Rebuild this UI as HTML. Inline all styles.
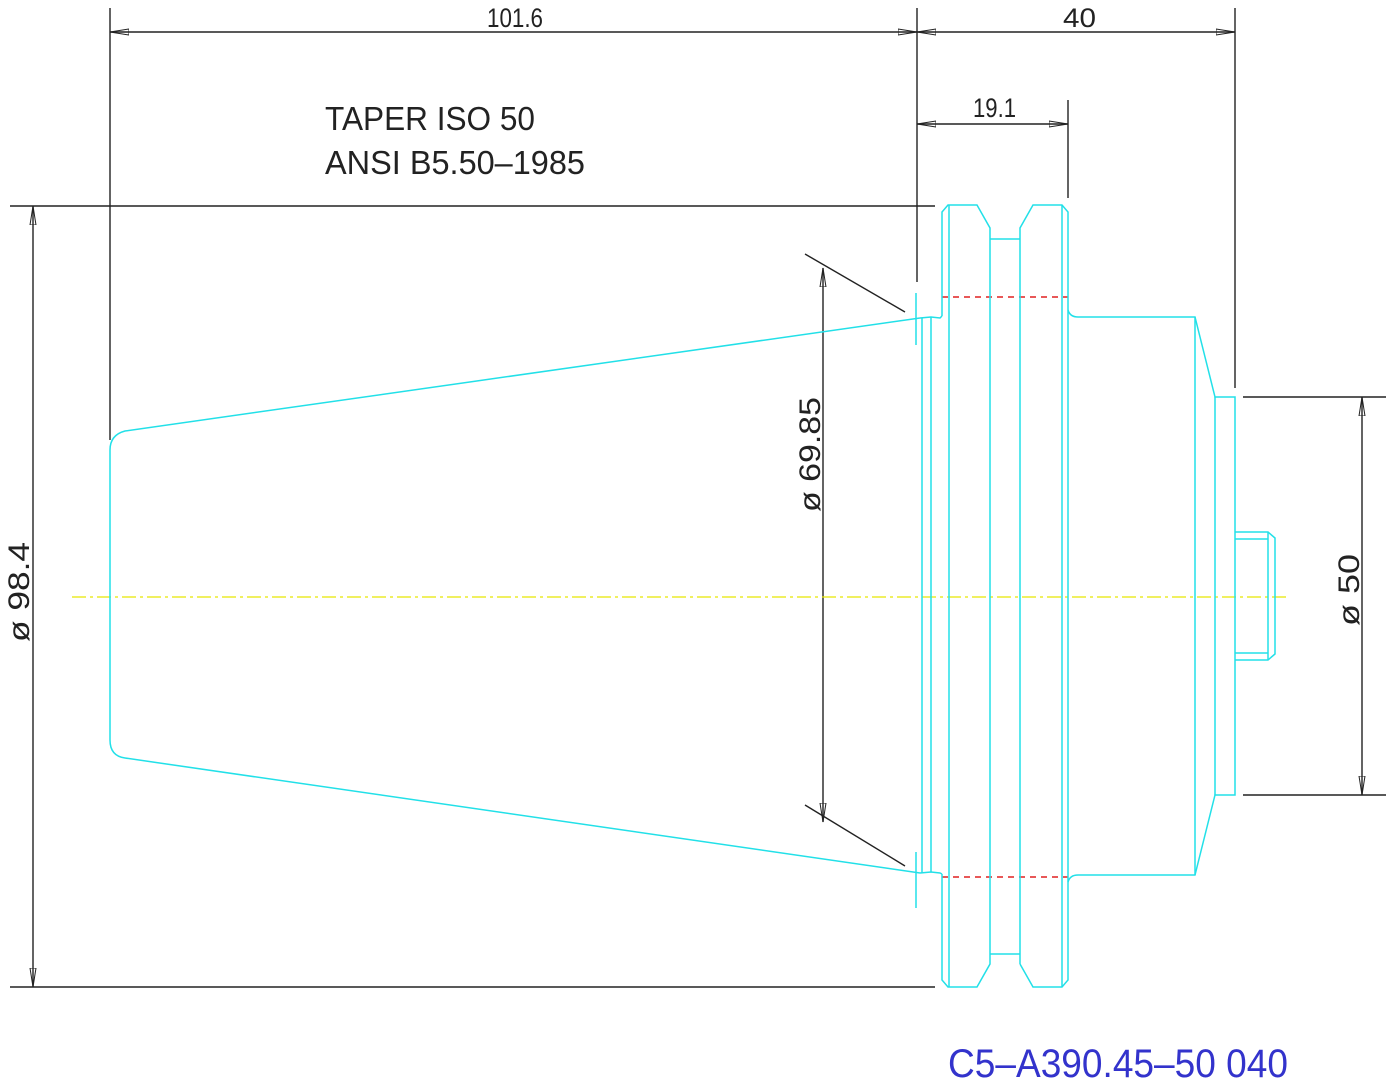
<!DOCTYPE html>
<html><head><meta charset="utf-8"><style>html,body{margin:0;padding:0;background:#fff}svg{display:block}</style></head>
<body>
<svg width="1386" height="1080" viewBox="0 0 1386 1080" xmlns="http://www.w3.org/2000/svg" font-family="Liberation Sans, sans-serif">
<defs>
<marker id="a" markerWidth="20" markerHeight="8" refX="19" refY="4" orient="auto" markerUnits="userSpaceOnUse"><path d="M0,1 L19,4 L0,7 Z" fill="none" stroke="#222" stroke-width="1"/></marker>
</defs>
<g stroke="#222" stroke-width="1.4" fill="none">
<!-- extension lines -->
<line x1="110" y1="8" x2="110" y2="440"/>
<line x1="917" y1="8" x2="917" y2="282"/>
<line x1="1235" y1="8" x2="1235" y2="388"/>
<line x1="1068" y1="100" x2="1068" y2="198"/>
<line x1="10" y1="206" x2="935" y2="206"/>
<line x1="10" y1="987" x2="935" y2="987"/>
<line x1="1243" y1="397" x2="1386" y2="397"/>
<line x1="1243" y1="795" x2="1386" y2="795"/>
<line x1="805" y1="254" x2="905" y2="312"/>
<line x1="805" y1="805" x2="905" y2="866"/>
<!-- dimension lines -->
<line x1="514" y1="32" x2="110" y2="32" marker-end="url(#a)"/>
<line x1="514" y1="32" x2="917" y2="32" marker-end="url(#a)"/>
<line x1="1076" y1="32" x2="917" y2="32" marker-end="url(#a)"/>
<line x1="1076" y1="32" x2="1235" y2="32" marker-end="url(#a)"/>
<line x1="992" y1="124" x2="917" y2="124" marker-end="url(#a)"/>
<line x1="992" y1="124" x2="1068" y2="124" marker-end="url(#a)"/>
<line x1="33" y1="596" x2="33" y2="206" marker-end="url(#a)"/>
<line x1="33" y1="596" x2="33" y2="987" marker-end="url(#a)"/>
<line x1="823" y1="545" x2="823" y2="268" marker-end="url(#a)"/>
<line x1="823" y1="545" x2="823" y2="822" marker-end="url(#a)"/>
<line x1="1362" y1="596" x2="1362" y2="397" marker-end="url(#a)"/>
<line x1="1362" y1="596" x2="1362" y2="795" marker-end="url(#a)"/>
</g>
<!-- centerline -->
<line x1="72" y1="597" x2="1290" y2="597" stroke="#e8e800" stroke-width="1.2" stroke-dasharray="14,4,3,4"/>
<!-- red dashed -->
<g stroke="#e02020" stroke-width="1.4" stroke-dasharray="6,5">
<line x1="942" y1="297" x2="1068" y2="297"/>
<line x1="942" y1="877" x2="1068" y2="877"/>
</g>
<g stroke="#22e0e8" stroke-width="1.5" fill="none">
<!-- taper -->
<path d="M920,318 L125,431 Q110,435 110,450 L110,740 Q110,756 125,758 L920,873"/>
<path d="M920,318 L931,317 L940,318 L942,316 M920,873 L931,872 L940,873 L942,874"/>
<line x1="922" y1="318" x2="922" y2="873"/>
<line x1="931" y1="317" x2="931" y2="872"/>
<line x1="916" y1="293" x2="916" y2="345"/>
<line x1="916" y1="852" x2="916" y2="908"/>
<!-- flanges -->
<path d="M942,316 L942,212 L948,205 L977,205 L990,228 L990,964 L977,987 L948,987 L942,980 L942,874"/>
<line x1="949" y1="205" x2="949" y2="987"/>
<path d="M990,239 L1020,239 M990,954 L1020,954"/>
<path d="M1020,964 L1020,228 L1033,205 L1062,205 L1068,212 L1068,980 L1062,987 L1033,987 L1020,964"/>
<line x1="1062" y1="205" x2="1062" y2="987"/>
<!-- body -->
<path d="M1068,310 Q1070,317 1078,317 L1195,317 L1215,397 L1235,397 L1235,795 L1215,795 L1195,875 L1078,875 Q1070,875 1068,882"/>
<line x1="1195" y1="317" x2="1195" y2="875"/>
<line x1="1215" y1="397" x2="1215" y2="795"/>
<!-- pin -->
<path d="M1235,532 L1268,532 L1275,538 L1275,654 L1268,660 L1235,660"/>
<line x1="1268" y1="532" x2="1268" y2="660"/>
<line x1="1235" y1="539" x2="1268" y2="539"/>
<line x1="1235" y1="653" x2="1268" y2="653"/>
</g>
<g fill="#222" font-family="Liberation Sans Narrow, Liberation Sans, sans-serif">
<text x="487" y="27" font-size="27" textLength="56" lengthAdjust="spacingAndGlyphs">101.6</text>
<text x="1063" y="27" font-size="27" textLength="33" lengthAdjust="spacingAndGlyphs">40</text>
<text x="973" y="117" font-size="27" textLength="43" lengthAdjust="spacingAndGlyphs">19.1</text>
<text x="325" y="130" font-size="33" textLength="210" lengthAdjust="spacingAndGlyphs">TAPER ISO 50</text>
<text x="325" y="174" font-size="33" textLength="260" lengthAdjust="spacingAndGlyphs">ANSI B5.50–1985</text>
<text transform="translate(29,642) rotate(-90)" font-size="30" textLength="100" lengthAdjust="spacingAndGlyphs">ø 98.4</text>
<text transform="translate(820,512) rotate(-90)" font-size="30" textLength="115" lengthAdjust="spacingAndGlyphs">ø 69.85</text>
<text transform="translate(1359,626) rotate(-90)" font-size="30" textLength="72" lengthAdjust="spacingAndGlyphs">ø 50</text>
</g>
<text x="948" y="1077" font-size="40" fill="#3333cc" font-family="Liberation Sans Narrow, Liberation Sans, sans-serif" textLength="340" lengthAdjust="spacingAndGlyphs">C5–A390.45–50 040</text>
</svg>
</body></html>
